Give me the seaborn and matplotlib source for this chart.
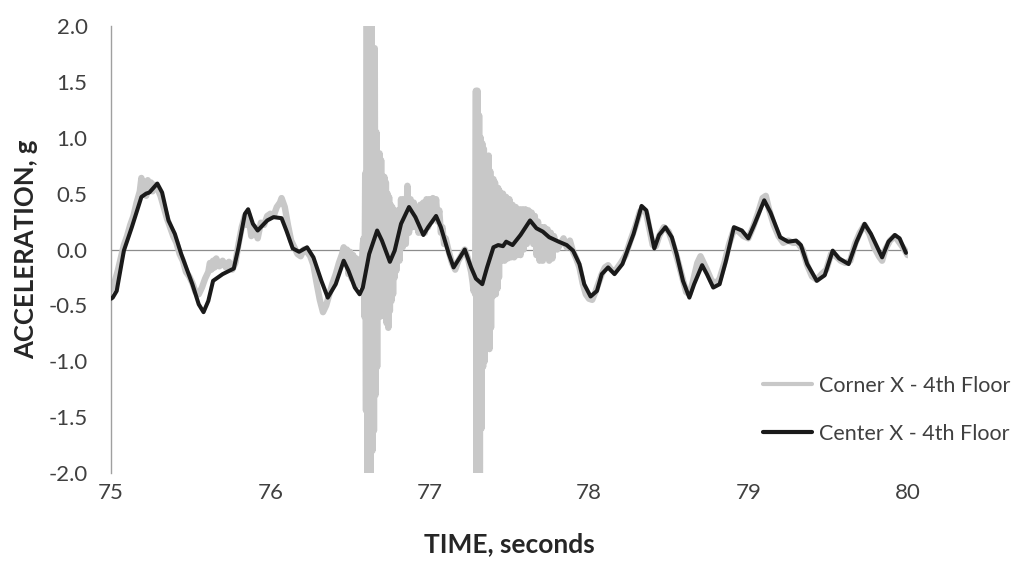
import matplotlib
matplotlib.use("Agg")
import matplotlib.pyplot as plt
import seaborn as sns
import pandas as pd

# ---------------- data ----------------
center_label = "Center X - 4th Floor"
corner_label = "Corner X - 4th Floor"

center_t = [75.00, 75.01, 75.035, 75.08, 75.13, 75.19, 75.22, 75.24, 75.29, 75.32,
            75.36, 75.40, 75.44, 75.51, 75.55, 75.58, 75.61, 75.64, 75.70, 75.77,
            75.80, 75.84, 75.86, 75.89, 75.92, 75.98, 76.02, 76.07, 76.10, 76.14,
            76.18, 76.23, 76.27, 76.32, 76.36, 76.41, 76.46, 76.49, 76.53, 76.56,
            76.58, 76.62, 76.67, 76.70, 76.75, 76.78, 76.82, 76.87, 76.91, 76.96,
            76.99, 77.04, 77.07, 77.12, 77.15, 77.19, 77.22, 77.26, 77.29, 77.33,
            77.36, 77.40, 77.43, 77.46, 77.48, 77.52, 77.57, 77.63, 77.67, 77.71,
            77.75, 77.81, 77.86, 77.90, 77.94, 77.97, 78.01, 78.05, 78.08, 78.12,
            78.16, 78.21, 78.28, 78.33, 78.36, 78.41, 78.44, 78.48, 78.52, 78.55,
            78.59, 78.63, 78.66, 78.71, 78.74, 78.78, 78.82, 78.86, 78.91, 78.96,
            79.00, 79.04, 79.10, 79.14, 79.20, 79.25, 79.30, 79.33, 79.37, 79.43,
            79.48, 79.53, 79.57, 79.63, 79.68, 79.73, 79.77, 79.84, 79.88, 79.92,
            79.95, 79.99]
center_v = [-0.44, -0.43, -0.37, -0.01, 0.20, 0.47, 0.50, 0.51, 0.59, 0.51,
            0.26, 0.14, -0.04, -0.31, -0.49, -0.56, -0.46, -0.28, -0.22, -0.17,
            0.02, 0.32, 0.36, 0.23, 0.17, 0.26, 0.29, 0.28, 0.17, 0.01,
            -0.02, 0.02, -0.07, -0.28, -0.43, -0.31, -0.10, -0.19, -0.34, -0.40,
            -0.34, -0.04, 0.17, 0.08, -0.11, -0.01, 0.23, 0.38, 0.29, 0.13,
            0.20, 0.30, 0.20, -0.04, -0.16, -0.07, 0.00, -0.16, -0.26, -0.31,
            -0.16, 0.02, 0.04, 0.03, 0.07, 0.04, 0.13, 0.26, 0.19, 0.16,
            0.11, 0.07, 0.04, -0.01, -0.13, -0.31, -0.42, -0.37, -0.22, -0.16,
            -0.22, -0.13, 0.14, 0.39, 0.35, 0.01, 0.13, 0.20, 0.11, -0.04,
            -0.28, -0.43, -0.31, -0.14, -0.22, -0.34, -0.31, -0.10, 0.20, 0.17,
            0.10, 0.23, 0.44, 0.33, 0.11, 0.07, 0.08, 0.04, -0.13, -0.28,
            -0.23, -0.01, -0.08, -0.13, 0.07, 0.23, 0.14, -0.07, 0.07, 0.13,
            0.10, -0.03]

corner_t = [
    # 75.00 - 76.58
    75.00, 75.02, 75.04, 75.06, 75.08, 75.10, 75.12, 75.14, 75.16, 75.18,
    75.19, 75.20, 75.21, 75.22, 75.23, 75.24, 75.25, 75.26, 75.27, 75.29,
    75.31, 75.33, 75.35, 75.37, 75.39, 75.41, 75.43, 75.45, 75.47, 75.49,
    75.51, 75.53, 75.55, 75.57, 75.59, 75.61, 75.62, 75.63, 75.64, 75.65,
    75.66, 75.68, 75.70, 75.72, 75.74, 75.76, 75.78, 75.80, 75.82, 75.84,
    75.85, 75.86, 75.88, 75.90, 75.92, 75.94, 75.96, 75.98, 76.00, 76.02,
    76.04, 76.06, 76.07, 76.09, 76.11, 76.13, 76.15, 76.17, 76.19, 76.21,
    76.23, 76.25, 76.27, 76.29, 76.31, 76.33, 76.35, 76.37, 76.39, 76.41,
    76.43, 76.45, 76.46, 76.47, 76.48, 76.49, 76.50, 76.51, 76.52, 76.53,
    76.54, 76.55, 76.56, 76.57, 76.58,
    # first burst
    76.585, 76.590, 76.595, 76.600, 76.605, 76.610, 76.615, 76.620, 76.625, 76.630,
    76.635, 76.640, 76.645, 76.650, 76.655, 76.660, 76.665, 76.670, 76.675, 76.680,
    76.685, 76.690, 76.695, 76.700, 76.705, 76.710, 76.715, 76.720, 76.725, 76.730,
    76.735, 76.740, 76.745, 76.750, 76.755, 76.760, 76.765, 76.770, 76.775, 76.780,
    76.785, 76.790, 76.800, 76.810, 76.820, 76.830, 76.840, 76.850, 76.860, 76.870,
    76.880, 76.890, 76.900, 76.910, 76.920, 76.930, 76.940, 76.950, 76.960, 76.970,
    76.980, 76.990, 77.000, 77.010, 77.020, 77.030, 77.040, 77.050, 77.060, 77.070,
    77.080, 77.090, 77.100, 77.120, 77.140, 77.160, 77.180, 77.200, 77.220, 77.240,
    77.260,
    # second burst
    77.270, 77.275, 77.280, 77.285, 77.290, 77.295, 77.300, 77.305, 77.310, 77.315,
    77.320, 77.325, 77.330, 77.335, 77.340, 77.345, 77.350, 77.355, 77.360, 77.365,
    77.370, 77.375, 77.380, 77.385, 77.390, 77.395, 77.400, 77.405, 77.410, 77.415,
    77.420, 77.425, 77.430, 77.435, 77.440, 77.450, 77.460, 77.470, 77.480, 77.490,
    77.500, 77.510, 77.520, 77.530, 77.540, 77.550, 77.560, 77.570, 77.580, 77.590,
    77.600, 77.610, 77.620, 77.630, 77.640, 77.650, 77.660, 77.670, 77.680, 77.690,
    77.700, 77.710, 77.720, 77.730, 77.740, 77.750, 77.760, 77.770, 77.780, 77.800,
    # 77.82 - 80.00
    77.82, 77.84, 77.86, 77.88, 77.90, 77.92, 77.94, 77.96, 77.98, 78.00,
    78.02, 78.04, 78.06, 78.08, 78.10, 78.12, 78.14, 78.16, 78.18, 78.20,
    78.23, 78.26, 78.29, 78.32, 78.34, 78.36, 78.38, 78.40, 78.42, 78.44,
    78.47, 78.50, 78.52, 78.55, 78.58, 78.61, 78.63, 78.65, 78.68, 78.70,
    78.72, 78.74, 78.77, 78.80, 78.82, 78.85, 78.88, 78.91, 78.94, 78.97,
    79.00, 79.03, 79.06, 79.09, 79.11, 79.13, 79.16, 79.19, 79.22, 79.25,
    79.28, 79.31, 79.34, 79.37, 79.40, 79.43, 79.46, 79.49, 79.52, 79.55,
    79.58, 79.61, 79.64, 79.67, 79.70, 79.73, 79.76, 79.79, 79.82, 79.84,
    79.86, 79.89, 79.92, 79.95, 79.98, 80.00]
corner_v = [
    -0.36, -0.30, -0.20, -0.08, 0.04, 0.12, 0.22, 0.30, 0.42, 0.52,
    0.64, 0.50, 0.58, 0.48, 0.62, 0.55, 0.60, 0.52, 0.58, 0.55,
    0.48, 0.38, 0.28, 0.20, 0.12, 0.06, -0.04, -0.10, -0.20, -0.24,
    -0.30, -0.38, -0.40, -0.34, -0.26, -0.20, -0.12, -0.18, -0.10, -0.16,
    -0.08, -0.15, -0.10, -0.16, -0.11, -0.18, -0.12, 0.05, 0.20, 0.30,
    0.22, 0.32, 0.12, 0.20, 0.10, 0.24, 0.22, 0.30, 0.32, 0.30,
    0.38, 0.42, 0.46, 0.38, 0.22, 0.08, 0.02, -0.04, -0.06, 0.00,
    -0.02, -0.06, -0.14, -0.30, -0.45, -0.56, -0.50, -0.40, -0.30, -0.22,
    -0.12, -0.04, 0.02, -0.10, 0.00, -0.22, -0.02, -0.26, -0.05, -0.30,
    -0.08, -0.32, -0.10, -0.30, 0.05,
    # first burst
    0.10, -0.60, 0.68, -1.44, 2.00, -2.00, 2.00, -2.00, 2.00, -2.00,
    2.00, -1.80, 1.80, -1.62, 1.80, -1.30, 1.05, -1.05, 0.86, -0.60,
    0.86, -0.60, 0.80, -0.55, 0.65, -0.55, 0.65, -0.60, 0.60, -0.66,
    0.50, -0.70, 0.47, -0.55, 0.40, -0.46, 0.38, -0.40, 0.35, -0.25,
    0.30, -0.19, 0.35, -0.10, 0.45, 0.02, 0.45, 0.05, 0.57, 0.15,
    0.45, 0.20, 0.42, 0.20, 0.35, 0.15, 0.40, 0.15, 0.42, 0.15,
    0.45, 0.20, 0.45, 0.25, 0.46, 0.28, 0.45, 0.25, 0.35, 0.15,
    0.20, 0.05, 0.10, -0.02, -0.12, -0.18, -0.10, -0.05, 0.00, -0.08,
    -0.20,
    # second burst
    -0.30, -0.37, -0.20, -0.40, 1.42, -2.00, 1.42, -2.00, 1.20, -2.00,
    1.00, -1.60, 0.95, -1.05, 0.90, -1.00, 0.68, -0.76, 0.60, -0.80,
    0.84, -0.89, 0.70, -0.70, 0.63, -0.42, 0.63, -0.40, 0.60, -0.40,
    0.55, -0.35, 0.55, -0.25, 0.52, -0.10, 0.50, -0.10, 0.47, -0.08,
    0.45, -0.07, 0.40, -0.07, 0.38, -0.05, 0.36, -0.05, 0.36, 0.00,
    0.36, 0.05, 0.35, 0.10, 0.33, 0.05, 0.30, -0.05, 0.25, -0.10,
    0.20, -0.10, 0.20, -0.05, 0.18, -0.10, 0.15, -0.08, 0.12, 0.00,
    # 77.82 - 80.00
    0.05, 0.10, 0.02, 0.08, -0.02, -0.08, -0.16, -0.30, -0.40, -0.44,
    -0.45, -0.38, -0.30, -0.22, -0.16, -0.14, -0.18, -0.20, -0.16, -0.12,
    -0.05, 0.08, 0.20, 0.34, 0.36, 0.32, 0.18, 0.04, 0.03, 0.12,
    0.20, 0.16, 0.08, -0.06, -0.22, -0.38, -0.40, -0.30, -0.12, -0.06,
    -0.12, -0.18, -0.28, -0.30, -0.26, -0.12, 0.05, 0.18, 0.16, 0.12,
    0.10, 0.20, 0.32, 0.46, 0.48, 0.36, 0.22, 0.12, 0.06, 0.08,
    0.06, 0.06, 0.00, -0.14, -0.24, -0.27, -0.22, -0.18, -0.04, -0.06,
    -0.10, -0.12, -0.10, 0.05, 0.15, 0.22, 0.14, 0.02, -0.06, -0.10,
    0.00, 0.08, 0.12, 0.06, 0.00, -0.05]

y_ticks = [-2.0, -1.5, -1.0, -0.5, 0.0, 0.5, 1.0, 1.5, 2.0]
x_ticks = [75, 76, 77, 78, 79, 80]

# ---------------- plotting ----------------
sns.set_theme(style="white")
plt.rcParams["font.family"] = ["Lato", "DejaVu Sans"]

fig = plt.figure(figsize=(10.29, 5.62), dpi=100)
ax = fig.add_axes([0.108, 0.158, 0.774, 0.796])

corner_df = pd.DataFrame({"t": corner_t, "v": corner_v})
center_df = pd.DataFrame({"t": center_t, "v": center_v})

ax.axhline(0, color="#8c8c8c", lw=0.9, zorder=1)
sns.lineplot(data=corner_df, x="t", y="v", ax=ax, color="#c8c8c8", lw=4.6,
             estimator=None, sort=False, label=corner_label, zorder=2)
sns.lineplot(data=center_df, x="t", y="v", ax=ax, color="#1a1a1a", lw=2.9,
             estimator=None, sort=False, label=center_label, zorder=3)

ax.set_xlim(75, 80)
ax.set_ylim(-2, 2)
ax.set_xticks(x_ticks)
ax.set_xticklabels([str(x) for x in x_ticks])
ax.set_yticks(y_ticks)
ax.set_yticklabels([f"{y:.1f}" for y in y_ticks])
ax.tick_params(axis="both", length=0, colors="#404040")
ax.tick_params(axis="x", pad=7, labelsize=16)
ax.tick_params(axis="y", pad=17, labelsize=16)

for s in ["top", "right", "bottom"]:
    ax.spines[s].set_visible(False)
ax.spines["left"].set_color("#a0a0a0")
ax.spines["left"].set_linewidth(1.0)

ax.set_xlabel("TIME, seconds", fontsize=19, fontweight="bold", color="#262626")
ax.set_ylabel("ACCELERATION, g", fontsize=18.5, fontweight="bold", color="#262626")
ax.xaxis.set_label_coords(0.5, -0.132)
ax.yaxis.set_label_coords(-0.092, 0.5)

leg = ax.legend(loc="center left", bbox_to_anchor=(0.733, 0.271), bbox_transform=fig.transFigure,
                frameon=False, fontsize=15.5, handlelength=2.3, handletextpad=0.3,
                labelspacing=1.3, borderaxespad=0)
for txt in leg.get_texts():
    txt.set_color("#404040")
leg.get_lines()[0].set_linewidth(3.0)
leg.get_lines()[1].set_linewidth(3.0)

fig.savefig("out.png", dpi=100)
